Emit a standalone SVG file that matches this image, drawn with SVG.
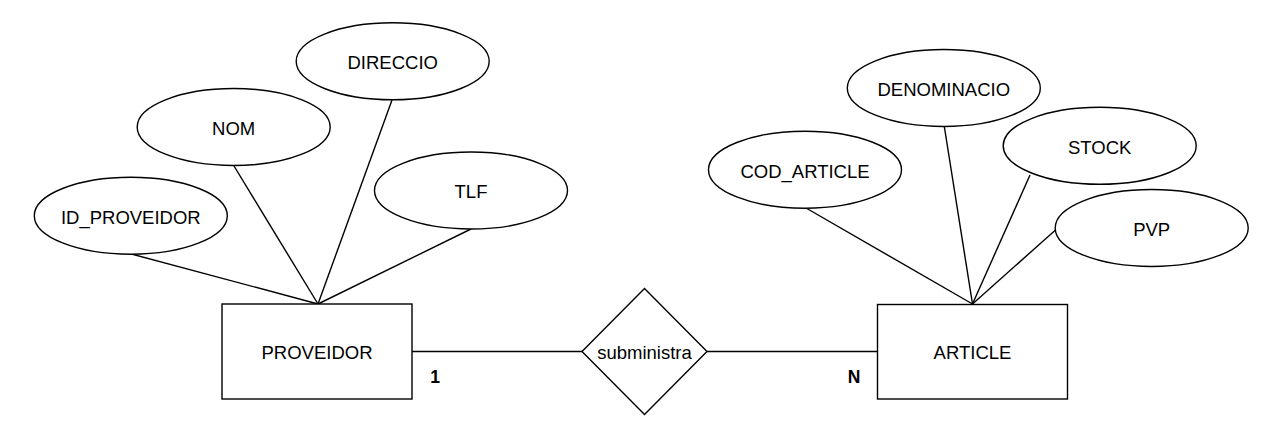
<svg xmlns="http://www.w3.org/2000/svg" width="1284" height="436" viewBox="0 0 1284 436">
<style>
.shape{fill:#fff;stroke:#000;stroke-width:1.4}
.conn line{stroke:#000;stroke-width:1.4}
text{font-family:"Liberation Sans",Arial,sans-serif;font-size:18.5px;fill:#000;text-anchor:middle}
.card{font-weight:bold;font-size:17.5px}
</style>
<rect width="1284" height="436" fill="#fff"/>
<g id="connectors" class="conn">
<line x1="131.5" y1="254" x2="318" y2="304"/>
<line x1="234" y1="166" x2="318" y2="304"/>
<line x1="392" y1="100" x2="318" y2="304"/>
<line x1="471" y1="229" x2="318" y2="304"/>
<line x1="806" y1="208" x2="972.5" y2="304"/>
<line x1="944.3" y1="126.5" x2="972.5" y2="304"/>
<line x1="1030" y1="175" x2="972.5" y2="304"/>
<line x1="1055.5" y1="230" x2="972.5" y2="304"/>
<line x1="412" y1="351.5" x2="582" y2="351.5"/>
<line x1="707" y1="351.5" x2="877.5" y2="351.5"/>
</g>
<g id="PROVEIDOR"><rect class="shape" x="222" y="304" width="190" height="95"/><text x="317" y="359.3">PROVEIDOR</text></g>
<g id="ARTICLE"><rect class="shape" x="877.5" y="304.5" width="190" height="94.5"/><text x="972.5" y="359.3">ARTICLE</text></g>
<g id="subministra"><polygon class="shape" points="644.5,288.5 707,351.5 644.5,414.5 582,351.5"/><text x="644.5" y="359">subministra</text></g>
<g id="ID_PROVEIDOR"><ellipse class="shape" cx="130.8" cy="215.7" rx="96.5" ry="38.5"/><text x="130.8" y="223.7">ID_PROVEIDOR</text></g>
<g id="NOM"><ellipse class="shape" cx="233.7" cy="127" rx="96.5" ry="38.5"/><text x="233.7" y="135">NOM</text></g>
<g id="DIRECCIO"><ellipse class="shape" cx="392.7" cy="61.3" rx="96.5" ry="38.5"/><text x="392.7" y="69">DIRECCIO</text></g>
<g id="TLF"><ellipse class="shape" cx="471" cy="190.5" rx="96.5" ry="38.5"/><text x="471" y="198.3">TLF</text></g>
<g id="COD_ARTICLE"><ellipse class="shape" cx="805" cy="169.7" rx="96.5" ry="38.5"/><text x="805" y="177.5">COD_ARTICLE</text></g>
<g id="DENOMINACIO"><ellipse class="shape" cx="943.8" cy="88" rx="96.5" ry="38.5"/><text x="943.8" y="95.8">DENOMINACIO</text></g>
<g id="STOCK"><ellipse class="shape" cx="1099.7" cy="145.8" rx="96.5" ry="38.5"/><text x="1099.7" y="153.6">STOCK</text></g>
<g id="PVP"><ellipse class="shape" cx="1151.7" cy="228" rx="96.5" ry="38.5"/><text x="1151.7" y="235.8">PVP</text></g>
<g id="labels"><text class="card" x="435" y="383.3">1</text><text class="card" x="854" y="382.5">N</text></g>
</svg>
